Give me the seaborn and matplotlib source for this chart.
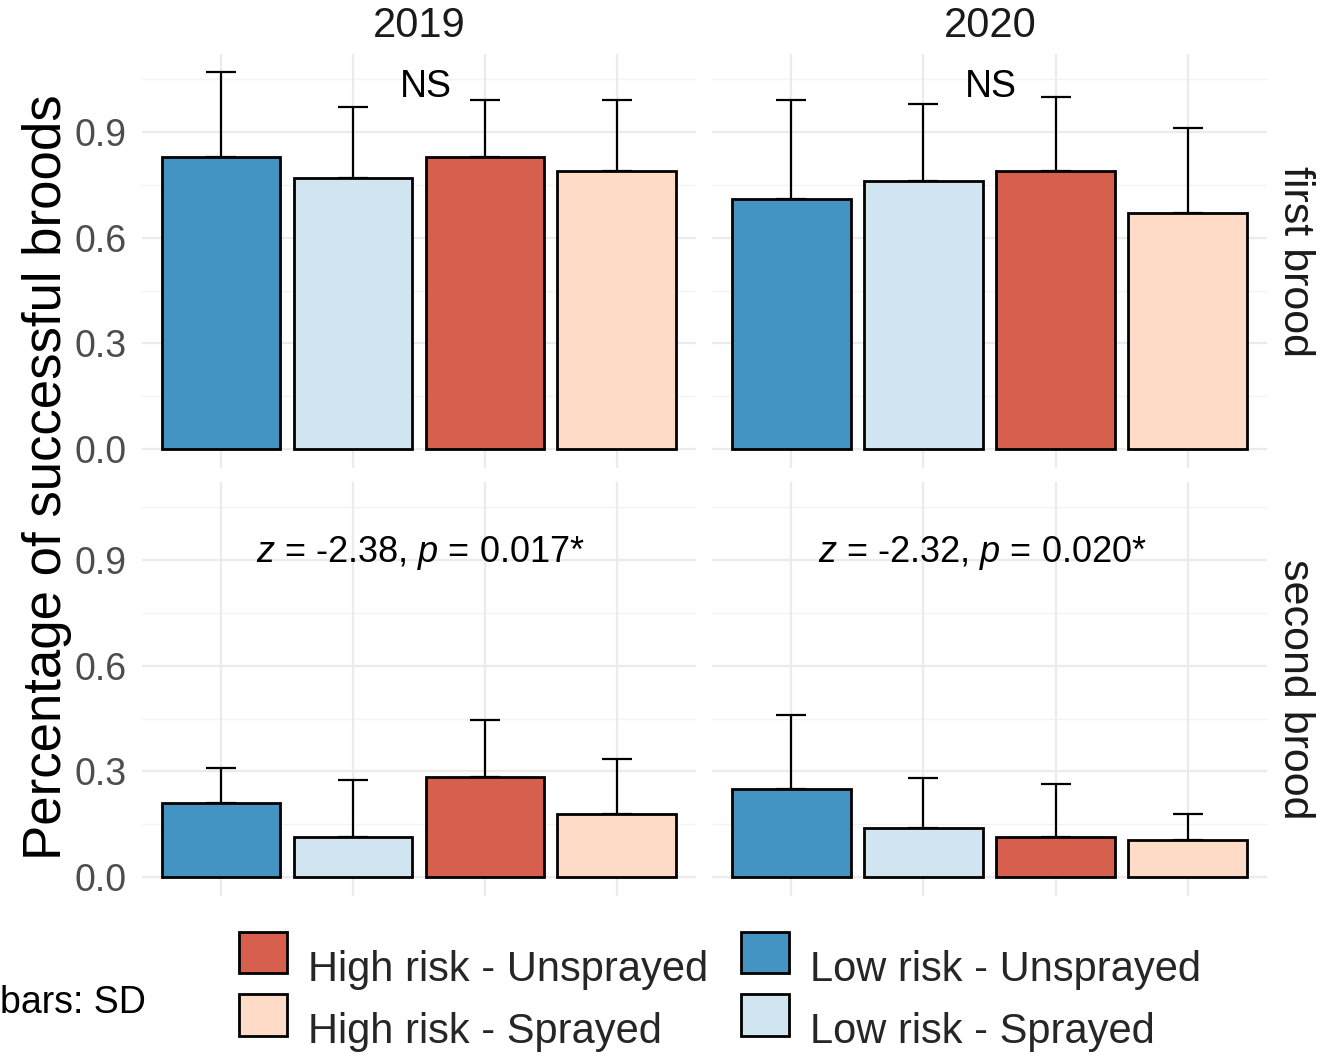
import numpy as np
import pandas as pd
import matplotlib
matplotlib.use("Agg")
import matplotlib.pyplot as plt
from matplotlib.patches import Patch
import seaborn as sns

# ---------------- data ----------------
years = ["2019", "2020"]
broods = ["first brood", "second brood"]
groups = ["Low risk - Unsprayed", "Low risk - Sprayed",
          "High risk - Unsprayed", "High risk - Sprayed"]
legend_order = ["High risk - Unsprayed", "High risk - Sprayed",
                "Low risk - Unsprayed", "Low risk - Sprayed"]
colors = ["#4393C3", "#D1E5F0", "#D6604D", "#FDDBC7"]

mean_first_2019 = [0.83, 0.77, 0.83, 0.79]
sd_first_2019 = [0.24, 0.20, 0.16, 0.20]
mean_first_2020 = [0.71, 0.76, 0.79, 0.67]
sd_first_2020 = [0.28, 0.22, 0.21, 0.24]
mean_second_2019 = [0.21, 0.115, 0.285, 0.18]
sd_second_2019 = [0.10, 0.16, 0.16, 0.155]
mean_second_2020 = [0.25, 0.14, 0.115, 0.105]
sd_second_2020 = [0.21, 0.14, 0.15, 0.075]

annot_first = ["NS", "NS"]
annot_second = ["$z$ = -2.38, $p$ = 0.017*", "$z$ = -2.32, $p$ = 0.020*"]
y_ticks = [0.0, 0.3, 0.6, 0.9]
y_ticklabels = ["0.0", "0.3", "0.6", "0.9"]

rows = []
for brood, yr, m, s in [("first brood", "2019", mean_first_2019, sd_first_2019),
                        ("first brood", "2020", mean_first_2020, sd_first_2020),
                        ("second brood", "2019", mean_second_2019, sd_second_2019),
                        ("second brood", "2020", mean_second_2020, sd_second_2020)]:
    for g, mv, sv in zip(groups, m, s):
        rows.append({"brood": brood, "year": yr, "group": g, "mean": mv, "sd": sv})
df = pd.DataFrame(rows)

# ---------------- style ----------------
sns.set_theme(style="white")
plt.rcParams["font.family"] = ["Liberation Sans", "DejaVu Sans"]
plt.rcParams["mathtext.fontset"] = "custom"
plt.rcParams["mathtext.rm"] = "Liberation Sans"
plt.rcParams["mathtext.it"] = "Liberation Sans:italic"

W, H = 1320, 1059
fig = plt.figure(figsize=(W / 100, H / 100), dpi=100)
fig.patch.set_facecolor("white")


def rect(l, t, r, b):
    return [l / W, 1 - b / H, (r - l) / W, (b - t) / H]


panels = {
    ("first brood", "2019"): rect(142, 54, 696, 468),
    ("first brood", "2020"): rect(712, 54, 1267, 468),
    ("second brood", "2019"): rect(142, 482, 696, 896),
    ("second brood", "2020"): rect(712, 482, 1267, 896),
}
palette = dict(zip(groups, colors))
ylim = (-0.0534, 1.121)

for (brood, yr), r in panels.items():
    ax = fig.add_axes(r)
    sub = df[(df.brood == brood) & (df.year == yr)]
    # grid
    for yv in [0.15, 0.45, 0.75, 1.05]:
        ax.axhline(yv, color="#F3F3F3", lw=1.0, zorder=0)
    for yv in y_ticks:
        ax.axhline(yv, color="#EBEBEB", lw=1.6, zorder=0)
    for xv in range(len(groups)):
        ax.axvline(xv, color="#EBEBEB", lw=1.6, zorder=0)
    sns.barplot(data=sub, x="group", y="mean", hue="group", order=groups,
                hue_order=groups, palette=palette, saturation=1, width=0.9,
                edgecolor="black", linewidth=2.0, errorbar=None, legend=False,
                ax=ax, zorder=3)
    # error bars (upper SD only)
    for cont, g in zip(ax.containers, groups):
        bar = cont[0]
        xc = bar.get_x() + bar.get_width() / 2
        row = sub[sub.group == g].iloc[0]
        ax.errorbar([xc], [row["mean"]], yerr=[[0], [row["sd"]]], fmt="none",
                    ecolor="black", elinewidth=1.6, capsize=11, capthick=1.6,
                    zorder=2)
    ax.set_xlim(-0.6, 3.6)
    ax.set_ylim(*ylim)
    ax.set_xlabel("")
    ax.set_ylabel("")
    ax.set_xticks(range(len(groups)))
    ax.set_xticklabels([])
    ax.set_yticks(y_ticks)
    if yr == "2019":
        ax.set_yticklabels(y_ticklabels, fontsize=27, color="#4D4D4D")
    else:
        ax.set_yticklabels([])
    ax.tick_params(length=0, pad=11)
    for sp in ax.spines.values():
        sp.set_visible(False)
    ax.set_facecolor("none")
    if brood == "first brood":
        txt = annot_first[years.index(yr)]
        xpos = 1.55 if yr == "2019" else 1.51
        ax.text(xpos, 1.026, txt, ha="center", va="center", fontsize=27,
                color="black")
    else:
        txt = annot_second[years.index(yr)]
        xpos = 1.51 if yr == "2019" else 1.45
        ax.text(xpos, 0.92, txt, ha="center", va="center", fontsize=26,
                color="black")

# strip labels
fig.text(419 / W, 1 - 26 / H, "2019", ha="center", va="center", fontsize=30,
         color="#1A1A1A")
fig.text(990 / W, 1 - 26 / H, "2020", ha="center", va="center", fontsize=30,
         color="#1A1A1A")
fig.text(1295 / W, 1 - 261 / H, "first brood", ha="center", va="center",
         fontsize=31, rotation=-90, color="#1A1A1A")
fig.text(1295 / W, 1 - 689 / H, "second brood", ha="center", va="center",
         fontsize=31, rotation=-90, color="#1A1A1A")

# y label
fig.text(47 / W, 1 - 477 / H, "Percentage of successful broods", ha="center",
         va="center", rotation=90, fontsize=38, color="black")

# legend
handles = [Patch(facecolor=palette[g], edgecolor="black", linewidth=2.0)
           for g in legend_order]
leg = fig.legend(handles, legend_order, ncol=2, loc="center",
                 bbox_to_anchor=(720 / W, 1 - 985 / H), frameon=False,
                 fontsize=30, handlelength=1.15, handleheight=1.15,
                 handletextpad=0.5, columnspacing=0.8, labelspacing=0.45)
for t in leg.get_texts():
    t.set_y(-14)

fig.text(0, 1 - 1003 / H, "bars: SD", ha="left", va="center", fontsize=27,
         color="black")

fig.savefig("out.png", dpi=100, facecolor="white")
